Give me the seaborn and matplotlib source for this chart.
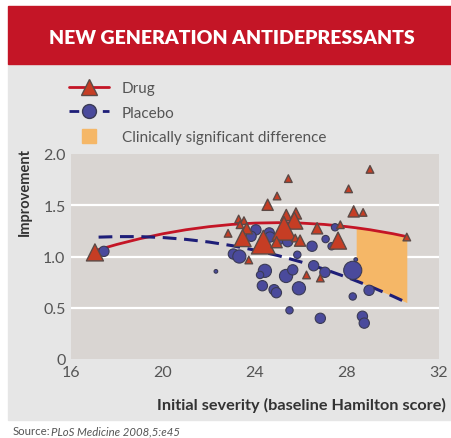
import numpy as np
import pandas as pd
import matplotlib
matplotlib.use("Agg")
import matplotlib.pyplot as plt
from matplotlib.lines import Line2D
from matplotlib.patches import Rectangle
import seaborn as sns

# study results, drug arm (triangles); weight 1-4 = relative study size
drug_x = [17.04, 29.0, 25.45, 28.07, 24.96, 24.55, 28.29, 28.7, 25.36, 25.78,
          25.71, 25.26, 23.29, 23.52, 23.35, 23.64, 22.83, 23.46, 24.36, 24.94,
          25.75, 25.96, 26.7, 27.71, 27.61, 30.6, 23.73, 26.24, 26.84]
drug_y = [1.04, 1.85, 1.76, 1.66, 1.59, 1.505, 1.44, 1.43, 1.405, 1.42,
          1.35, 1.275, 1.366, 1.35, 1.31, 1.275, 1.226, 1.18, 1.14, 1.14,
          1.18, 1.155, 1.275, 1.31, 1.155, 1.19, 0.966, 0.82, 0.79]
drug_w = [3, 1, 1, 1, 1, 2, 2, 1, 2, 2,
          3, 4, 1, 1, 1, 2, 1, 3, 4, 2,
          1, 2, 2, 1, 3, 1, 1, 1, 1]

# placebo arm (circles)
plac_x = [17.43, 24.04, 23.83, 24.62, 24.65, 25.03, 25.42, 26.48, 27.07, 27.48,
          27.33, 23.06, 23.32, 25.84, 28.38, 28.25, 24.43, 24.22, 25.35, 25.64,
          26.55, 27.04, 24.32, 24.83, 24.93, 25.91, 28.25, 28.96, 25.5, 26.84,
          28.67, 28.75, 22.3]
plac_y = [1.05, 1.26, 1.197, 1.23, 1.19, 1.165, 1.145, 1.10, 1.17, 1.285,
          1.10, 1.024, 1.0, 1.017, 0.97, 0.865, 0.86, 0.82, 0.81, 0.87,
          0.91, 0.846, 0.715, 0.676, 0.647, 0.69, 0.61, 0.67, 0.475, 0.397,
          0.417, 0.35, 0.855]
plac_w = [3, 3, 3, 3, 3, 3, 3, 3, 2, 2,
          2, 3, 4, 2, 1, 5, 4, 2, 4, 3,
          3, 3, 3, 3, 3, 4, 2, 3, 2, 3,
          3, 3, 1]

# fitted curves
fit_x = [17.2, 18, 19, 20, 21, 22, 23, 24, 25, 26, 27, 28, 28.4, 29, 30, 30.6]
drug_fit = [1.067, 1.118, 1.174, 1.222, 1.261, 1.291, 1.313, 1.326, 1.330,
            1.326, 1.313, 1.291, 1.280, 1.261, 1.222, 1.194]
plac_fit = [1.189, 1.194, 1.194, 1.185, 1.167, 1.141, 1.106, 1.062, 1.009,
            0.947, 0.877, 0.797, 0.762, 0.709, 0.612, 0.550]
signif_from = 28.4

RED = "#c41526"
NAVY = "#1e1e78"
TRI = "#c63d24"
TRI_EDGE = "#5c4a46"
DOT = "#4a4a9c"
DOT_EDGE = "#3b3b55"
ORANGE = "#f5b767"
TXT = "#555555"

sns.set_style("white")
plt.rcParams["font.family"] = ["Lato", "DejaVu Sans"]

drug = pd.DataFrame({"x": drug_x, "y": drug_y, "w": drug_w})
plac = pd.DataFrame({"x": plac_x, "y": plac_y, "w": plac_w})
fits = pd.DataFrame({"x": fit_x, "drug": drug_fit, "placebo": plac_fit})

fig = plt.figure(figsize=(4.51, 4.39), dpi=100)
fig.patch.set_facecolor("white")
fig.patches.append(Rectangle((8 / 451, 18 / 439), 1, (421 - 65) / 439,
                             transform=fig.transFigure, color="#e6e6e6", zorder=-10))
fig.patches.append(Rectangle((8 / 451, (439 - 65) / 439), 1, 58 / 439,
                             transform=fig.transFigure, color=RED, zorder=-10))
fig.text(0.515, 1 - 39 / 439, "NEW GENERATION ANTIDEPRESSANTS", color="white",
         fontsize=14, fontweight="heavy", ha="center", va="center")

ax = fig.add_axes([71 / 451, 1 - 360 / 439, (439 - 71) / 451, 205 / 439])
ax.set_facecolor("#d9d5d2")
for s in ax.spines.values():
    s.set_visible(False)
for yv in [0.5, 1.0, 1.5]:
    ax.axhline(yv, color="white", lw=1.6, zorder=0)

sig = fits[fits["x"] >= signif_from]
ax.fill_between(sig["x"], sig["placebo"], sig["drug"], color=ORANGE, lw=0, zorder=1)
sns.lineplot(data=fits, x="x", y="drug", color=RED, lw=2, ax=ax, zorder=2)
sns.lineplot(data=fits, x="x", y="placebo", color=NAVY, lw=2.2, ax=ax, zorder=2,
             dashes=False, linestyle=(0, (4.5, 2.5)))

sns.scatterplot(data=plac, x="x", y="y", size="w", ax=ax, legend=False,
                sizes={1: 7, 2: 28, 3: 55, 4: 90, 5: 170}, color=DOT,
                edgecolor=DOT_EDGE, linewidth=0.8, marker="o", zorder=3)
sns.scatterplot(data=drug, x="x", y="y", size="w", ax=ax, legend=False,
                sizes={1: 30, 2: 65, 3: 150, 4: 290}, color=TRI,
                edgecolor=TRI_EDGE, linewidth=1.0, marker="^", zorder=4)

ax.set_xlim(16, 32)
ax.set_ylim(0, 2.0)
ax.set_xticks([16, 20, 24, 28, 32])
ax.set_yticks([0, 0.5, 1.0, 1.5, 2.0])
ax.set_yticklabels(["0", "0.5", "1.0", "1.5", "2.0"])
ax.tick_params(axis="both", labelsize=11.5, labelcolor=TXT, length=0, pad=4)
ax.tick_params(axis="x", direction="in", length=3, width=1.5, color="white")
ax.set_xlabel("")
ax.set_ylabel("")

fig.text(446 / 451, 1 - 405 / 439, "Initial severity (baseline Hamilton score)",
         ha="right", va="center", fontsize=11.7, fontweight="bold", color="#333333")
fig.text(25 / 451, 1 - 148 / 439, "Improvement", rotation=90, ha="center", va="top",
         fontsize=10.5, fontweight="bold", color="#333333")
fig.text(13 / 451, 1 - 432 / 439, "Source:", ha="left", va="center",
         fontsize=8.2, color=TXT)
fig.text(51 / 451, 1 - 432 / 439, "PLoS Medicine 2008,5:e45", ha="left", va="center",
         fontsize=8.2, color=TXT, style="italic")

handles = [
    Line2D([], [], color=RED, lw=2, marker="^", markersize=12,
           markerfacecolor=TRI, markeredgecolor=TRI_EDGE),
    Line2D([], [], color=NAVY, lw=2, ls=(0, (3.5, 2.5)), marker="o", markersize=10,
           markerfacecolor=DOT, markeredgecolor=DOT_EDGE),
    Line2D([], [], lw=0, marker="s", markersize=10, markerfacecolor=ORANGE,
           markeredgecolor=ORANGE),
]
labels = ["Drug", "Placebo", "Clinically significant difference"]
fig.legend(handles, labels, loc="upper left", bbox_to_anchor=(69 / 451, 1 - 82 / 439),
           frameon=False, fontsize=11, handlelength=2.6, handletextpad=0.85,
           labelspacing=0.7, borderpad=0, borderaxespad=0, labelcolor=TXT)

fig.savefig("out.png", dpi=100)
